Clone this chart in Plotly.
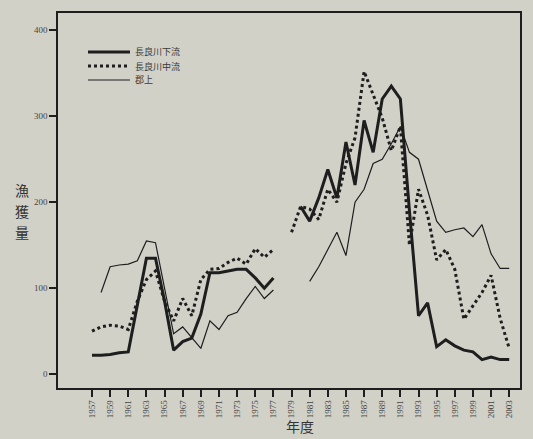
import plotly.graph_objects as go

years = list(range(1957, 2004))

# 長良川下流 (thick solid)
karyu = [22, 22, 23, 25, 26, 80, 135, 135, 85, 28, 38, 42, 70, 118, 118, 120, 122, 122, 112, 100, 112,
         None, None,
         195, 178, 205, 238, 205, 270, 220, 295, 258, 320, 335, 320, 190, 68, 83, 32, 40, 33, 28, 26, 17, 20, 17, 17]

# 長良川中流 (thick dashed)
churyu = [50, 55, 57, 56, 52, 85, 110, 120, 85, 62, 88, 68, 110, 122, 123, 130, 135, 128, 146, 136, 145,
          None,
          165, 195, 192, 180, 215, 200, 245, 275, 352, 325, 298, 260, 288, 150, 215, 185, 133, 145, 122, 64, 80, 95, 115, 65, 30]

# 郡上 (thin solid)
gujo = [None, 95, 125, 127, 128, 132, 155, 153, 100, 47, 55, 42, 30, 62, 52, 68, 72, 88, 102, 88, 98,
        None, None, None,
        108, 125, 145, 165, 138, 200, 215, 245, 250, 268, 288, 258, 250, 215, 178, 165, 168, 170, 160, 174, 140, 123, 123]

series_names = ["長良川下流", "長良川中流", "郡上"]
tick_years = list(range(1957, 2004, 2))
y_ticks = [0, 100, 200, 300, 400]

ink = "#1e1e1e"
paper = "#d2d1c8"
serif = "Liberation Serif, DejaVu Serif, serif"
cjk = "Noto Sans CJK JP"

styles = [dict(color=ink, width=3),
          dict(color=ink, width=3, dash="3px,3px"),
          dict(color=ink, width=1.2)]

fig = go.Figure()
for name, vals, st in zip(series_names, [karyu, churyu, gujo], styles):
    fig.add_trace(go.Scatter(x=years, y=vals, mode="lines", name=name,
                             line=st, connectgaps=False))

L, R, T, B = 58, 13, 13, 51
W, H = 533, 439
pw, ph = W - L - R, H - T - B

def px(x):
    return (x - L) / pw

def py(y):
    return (H - B - y) / ph

shapes = []
annotations = []
legend_rows = [52, 66, 80]
for name, st, ry in zip(series_names, styles, legend_rows):
    shapes.append(dict(type="line", xref="paper", yref="paper",
                       x0=px(88), x1=px(130), y0=py(ry), y1=py(ry),
                       line=st))
    annotations.append(dict(text=name, x=px(133), y=py(ry), xref="paper", yref="paper",
                            xanchor="left", yanchor="middle", showarrow=False,
                            font=dict(family=cjk, size=9, color="#3a3a3a")))

for ch, cy in zip("漁獲量", [190, 211, 232]):
    annotations.append(dict(text=ch, x=px(22), y=py(cy), xref="paper", yref="paper",
                            xanchor="center", yanchor="middle", showarrow=False,
                            font=dict(family=cjk, size=14, color="#333")))

annotations.append(dict(text="年度", x=px(300), y=py(438), xref="paper", yref="paper",
                        xanchor="center", yanchor="bottom", showarrow=False,
                        font=dict(family=cjk, size=14, color="#333")))

fig.update_layout(
    width=W, height=H,
    margin=dict(l=L, r=R, t=T, b=B),
    paper_bgcolor=paper, plot_bgcolor=paper,
    showlegend=False,
    xaxis=dict(range=[1957 - (92 - L) / 9.07, 1957 + (W - R - 92) / 9.07],
               tickmode="array", tickvals=tick_years,
               ticktext=[str(y) for y in tick_years], tickangle=-90,
               ticks="outside", ticklen=7, tickwidth=1.5, tickcolor=ink,
               showline=True, linecolor=ink, linewidth=1.5, mirror=True,
               showgrid=False, zeroline=False,
               tickfont=dict(family=serif, size=9, color="#444")),
    yaxis=dict(range=[-16, 420], tickmode="array", tickvals=y_ticks,
               ticktext=[str(v) for v in y_ticks],
               ticks="outside", ticklen=7, tickwidth=1.5, tickcolor=ink,
               showline=True, linecolor=ink, linewidth=1.5, mirror=True,
               showgrid=False, zeroline=False,
               tickfont=dict(family=serif, size=9, color="#444")),
    shapes=shapes,
    annotations=annotations,
)

fig.write_html("out.html")
